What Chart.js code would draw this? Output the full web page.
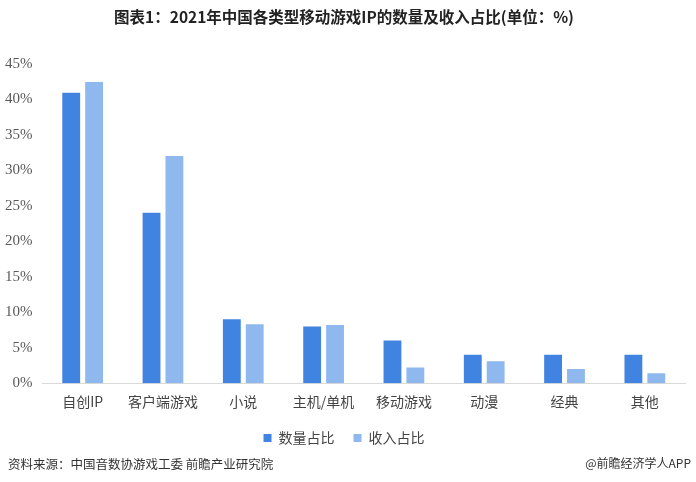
<!DOCTYPE html>
<html><head><meta charset="utf-8">
<script src="https://cdn.jsdelivr.net/npm/chart.js@4/dist/chart.umd.min.js"></script>
<style>
html,body{margin:0;padding:0;background:#fff;}
#wrap{position:relative;width:696px;height:482px;}
#foot-l{position:absolute;left:8px;top:454px;font:12.5px "Noto Sans CJK SC";color:#333;}
#foot-r{position:absolute;right:5px;top:454px;font:12px "Noto Sans CJK SC";color:#333;}
</style></head>
<body><div id="wrap"><canvas id="c" width="696" height="482"></canvas>
<div id="foot-l">资料来源：中国音数协游戏工委 前瞻产业研究院</div>
<div id="foot-r">@前瞻经济学人APP</div></div>
<script>
const categories = ["自创IP","客户端游戏","小说","主机/单机","移动游戏","动漫","经典","其他"];
const countShare = [40.9, 24.0, 9.0, 8.0, 6.0, 4.0, 4.0, 4.0];
const revenueShare = [42.4, 32.0, 8.3, 8.2, 2.2, 3.1, 2.0, 1.4];
const seriesNames = ["数量占比","收入占比"];
const yTicks = {min:0, max:45, step:5};

new Chart(document.getElementById('c'), {
  type:'bar',
  data:{labels:categories, datasets:[
    {label:seriesNames[0], data:countShare, backgroundColor:'#4083e0'},
    {label:seriesNames[1], data:revenueShare, backgroundColor:'#8fb8ef'}
  ]},
  options:{
    responsive:false, animation:false,
    layout:{padding:{left:3,right:11,top:0,bottom:27}},
    categoryPercentage:0.57, barPercentage:0.78,
    plugins:{
      title:{display:true, text:'图表1：2021年中国各类型移动游戏IP的数量及收入占比(单位：%)',
        font:{family:'"Noto Sans CJK SC"', size:15.5, weight:'bold'}, color:'#222', padding:{top:8,bottom:37}},
      legend:{position:'bottom', labels:{boxWidth:8, boxHeight:8, font:{family:'"Noto Sans CJK SC"', size:14}, color:'#444', padding:19}},
      tooltip:{enabled:false}
    },
    scales:{
      x:{grid:{display:false}, border:{color:'#d9d9d9'},
         ticks:{font:{family:'"Noto Sans CJK SC"', size:14}, color:'#444', padding:2}},
      y:{min:yTicks.min, max:yTicks.max, grid:{display:false}, border:{display:false},
         ticks:{stepSize:yTicks.step, callback:v=>v+'%', font:{family:'"Liberation Serif"', size:15}, color:'#595959', padding:2}}
    }
  }
});
</script></body></html>
